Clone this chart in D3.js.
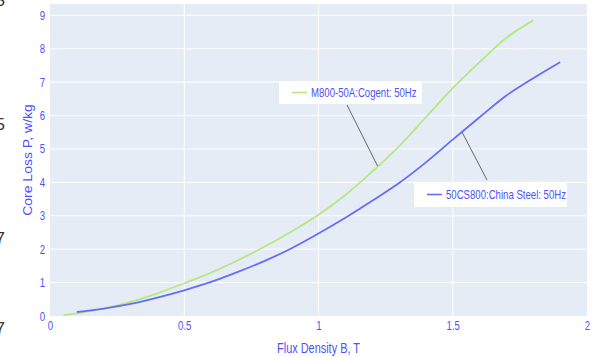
<!DOCTYPE html>
<html>
<head>
<meta charset="utf-8">
<script src="https://cdn.jsdelivr.net/npm/d3@7"></script>
<style>
  html, body { margin: 0; padding: 0; background: #fff; }
  svg { display: block; font-family: "Liberation Sans", Arial, sans-serif; }
</style>
</head>
<body>
<svg id="chart" width="596" height="357"></svg>
<script>
// Core loss curves at 50 Hz for two electrical steel grades
const fluxCogent = [0.05, 0.1, 0.2, 0.3, 0.4, 0.5, 0.6, 0.7, 0.8, 0.9, 1.0, 1.1, 1.2, 1.3, 1.4, 1.5, 1.6, 1.7, 1.8];
const lossCogent = [0.03, 0.08, 0.22, 0.42, 0.68, 0.98, 1.30, 1.67, 2.08, 2.53, 3.03, 3.62, 4.32, 5.08, 5.95, 6.82, 7.60, 8.33, 8.85];

const fluxChina = [0.1, 0.2, 0.3, 0.4, 0.5, 0.6, 0.7, 0.8, 0.9, 1.0, 1.1, 1.2, 1.3, 1.4, 1.5, 1.6, 1.7, 1.8, 1.9];
const lossChina = [0.12, 0.22, 0.36, 0.55, 0.77, 1.02, 1.32, 1.65, 2.03, 2.47, 2.94, 3.45, 3.98, 4.60, 5.28, 5.95, 6.60, 7.12, 7.60];

const xTicks = [0, 0.5, 1, 1.5, 2];
const xTickLabels = ["0", "0.5", "1", "1.5", "2"];
const yTicks = [0, 1, 2, 3, 4, 5, 6, 7, 8, 9];

const seriesNames = ["M800-50A:Cogent: 50Hz", "50CS800:China Steel: 50Hz"];
const seriesColors = ["#B6E880", "#636EFA"];
// label anchor points on each curve (B, P)
const labelTargets = [[1.22, 4.49], [1.535, 5.50]];

const textColor = "#4f4fff";
const squeeze = 0.8;

const svg = d3.select("#chart");
const plot = { left: 50, right: 587, top: 4, bottom: 316 };

const x = d3.scaleLinear().domain([0, 2]).range([plot.left, plot.right]);
const y = d3.scaleLinear().domain([0, 9.34]).range([plot.bottom, plot.top]);

// horizontally condensed text helper
function label(g, px, py, str, opts) {
  return g.append("text")
    .attr("transform", `translate(${px},${py}) scale(${opts.sx ?? squeeze},1)`)
    .attr("text-anchor", opts.anchor || "start")
    .attr("font-size", opts.size || 12)
    .attr("fill", opts.fill || textColor)
    .text(str);
}

// plot background
svg.append("rect")
  .attr("x", plot.left).attr("y", plot.top)
  .attr("width", plot.right - plot.left).attr("height", plot.bottom - plot.top)
  .attr("fill", "#E5ECF6");

// grid
const grid = svg.append("g");
grid.selectAll("line.gy").data(yTicks.filter(d => d > 0)).join("line")
  .attr("x1", plot.left).attr("x2", plot.right)
  .attr("y1", d => y(d)).attr("y2", d => y(d))
  .attr("stroke", "#fff").attr("stroke-width", 1);
grid.selectAll("line.gx").data(xTicks.filter(d => d > 0 && d < 2)).join("line")
  .attr("y1", plot.top).attr("y2", plot.bottom)
  .attr("x1", d => x(d)).attr("x2", d => x(d))
  .attr("stroke", "#fff").attr("stroke-width", 1);

// axes
const xAxis = svg.append("g").attr("transform", `translate(0,${plot.bottom})`)
  .call(d3.axisBottom(x).tickValues(xTicks).tickSize(0).tickFormat((d, i) => xTickLabels[i]));
xAxis.select(".domain").remove();
xAxis.selectAll("text").each(function() {
  const t = d3.select(this);
  label(d3.select(this.parentNode), 0, 14, t.text(), { anchor: "middle" });
  t.remove();
});

const yAxis = svg.append("g").attr("transform", `translate(${plot.left},0)`)
  .call(d3.axisLeft(y).tickValues(yTicks).tickSize(0).tickFormat(d3.format("d")));
yAxis.select(".domain").remove();
yAxis.selectAll("text").each(function() {
  const t = d3.select(this);
  label(d3.select(this.parentNode), -5, 4, t.text(), { anchor: "end" });
  t.remove();
});

// axis titles
label(svg, (plot.left + plot.right) / 2, 353, "Flux Density B, T", { anchor: "middle", size: 14, sx: 0.78 });
svg.append("text")
  .attr("transform", `translate(32,${(plot.top + plot.bottom) / 2}) rotate(-90) scale(1,0.85)`)
  .attr("text-anchor", "middle").attr("font-size", 14).attr("fill", textColor)
  .text("Core Loss P, w/kg");

// curves
const line = d3.line().curve(d3.curveMonotoneX).x(d => x(d[0])).y(d => y(d[1]));
const series = [
  d3.zip(fluxCogent, lossCogent),
  d3.zip(fluxChina, lossChina)
];
svg.selectAll("path.curve").data(series).join("path")
  .attr("class", "curve")
  .attr("d", line)
  .attr("fill", "none")
  .attr("stroke", (d, i) => seriesColors[i])
  .attr("stroke-width", 1.8);

// callout labels with pointer lines
const boxes = [
  { x: 279, y: 81, w: 143, h: 23, tx: 347, ty: 105 },
  { x: 414, y: 182, w: 153, h: 25, tx: 487, ty: 180 }
];
boxes.forEach((b, i) => {
  const [tb, tp] = labelTargets[i];
  svg.append("line")
    .attr("x1", b.tx).attr("y1", b.ty)
    .attr("x2", x(tb)).attr("y2", y(tp))
    .attr("stroke", "#444").attr("stroke-width", 0.8);
  const g = svg.append("g");
  g.append("rect").attr("x", b.x).attr("y", b.y).attr("width", b.w).attr("height", b.h)
    .attr("fill", "#fff");
  const cy = b.y + b.h / 2;
  g.append("line").attr("x1", b.x + 13).attr("x2", b.x + 28).attr("y1", cy).attr("y2", cy)
    .attr("stroke", seriesColors[i]).attr("stroke-width", 1.6);
  label(g, b.x + 32, cy + 4, seriesNames[i], { size: 12, sx: 0.8 });
});

// fragments of neighbouring text at the left edge
[["5", 6], ["5", 130], ["7", 244], ["7", 334]].forEach(([ch, py]) => {
  label(svg, 5, py, ch, { anchor: "end", size: 17, fill: "#333", sx: 1 });
});
</script>
</body>
</html>
